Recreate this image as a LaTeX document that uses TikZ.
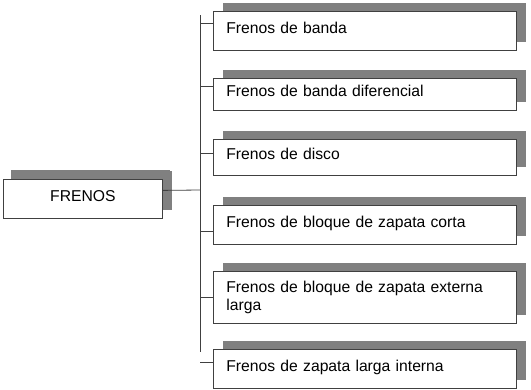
\documentclass[tikz,border=0pt]{standalone}
\usepackage{fontspec}
\setmainfont{Liberation Sans}
\usetikzlibrary{shadows}

\tikzset{
  box/.style={draw=black!75, fill=white, line width=0.8pt, anchor=north west,
    inner xsep=13pt, text width=277pt, align=left,
    font=\fontsize{15.7}{18}\selectfont,
    drop shadow={shadow xshift=9.5pt, shadow yshift=8.5pt, fill=black!50, opacity=1}},
  oneline/.style={text height=11pt, text depth=6pt},
  link/.style={draw=black!75, line width=0.8pt}
}

\begin{document}
\begin{tikzpicture}[x=1pt, y=-1pt]
  \useasboundingbox (0, 0) rectangle (531, 389);
  % root
  \node[box, oneline, text width=133pt, align=center, minimum height=39pt,
    drop shadow={shadow xshift=8pt, shadow yshift=9pt, fill=black!50, opacity=1}]
    (root) at (3, 179) {FRENOS};
  % kinds of brakes
  \node[box, oneline, minimum height=39pt] (b1) at (213, 11) {Frenos de banda};
  \node[box, oneline, minimum height=32pt] (b2) at (213, 78) {Frenos de banda diferencial};
  \node[box, oneline, minimum height=36pt] (b3) at (213, 139) {Frenos de disco};
  \node[box, oneline, minimum height=39pt] (b4) at (213, 205) {Frenos de bloque de zapata corta};
  \node[box, minimum height=52pt] (b5) at (213, 271) {Frenos de bloque de zapata externa\\larga};
  \node[box, oneline, minimum height=39pt] (b6) at (213, 349) {Frenos de zapata larga interna};
  % tree lines
  \coordinate (top) at (200, 15);
  \coordinate (bot) at (200, 352);
  \coordinate (junc) at (200, 190);
  \draw[link] (top) -- (bot);
  \draw[link] ([yshift=8.5pt]root.east) -- (junc);
  \foreach \n/\s in {b1/7.5, b2/8, b3/4, b4/-6.5, b5/0, b6/6.5}
    \draw[link] ([yshift=\s pt]\n.west) -- +(-13, 0);
\end{tikzpicture}
\end{document}
